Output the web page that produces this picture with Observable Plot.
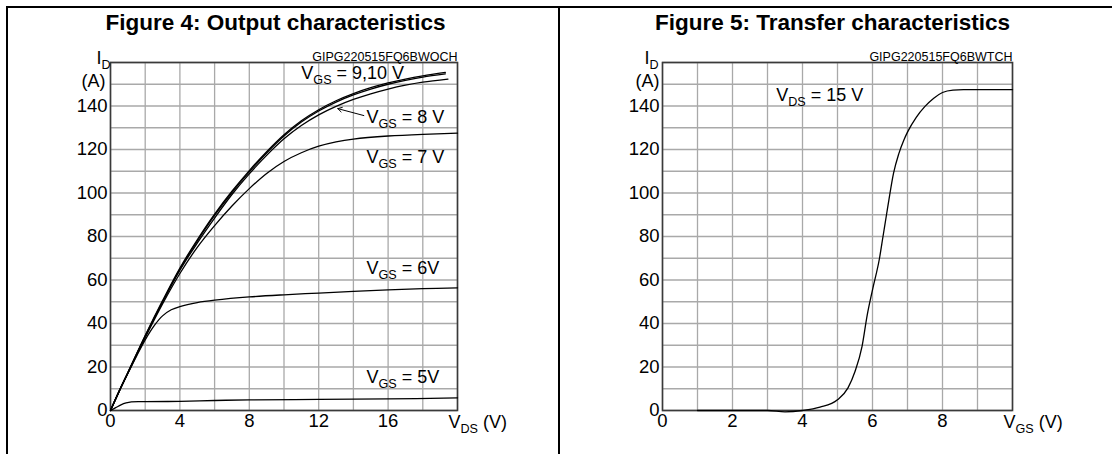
<!DOCTYPE html>
<html>
<head>
<meta charset="utf-8">
<script src="https://cdn.jsdelivr.net/npm/d3@7"></script>
<script src="https://cdn.jsdelivr.net/npm/@observablehq/plot@0.6"></script>
<style>
  html, body { margin: 0; padding: 0; background: #fff; }
  #wrap { position: relative; width: 1112px; height: 454px; overflow: hidden; background: #fff;
          font-family: Arial, "Liberation Sans", Helvetica, sans-serif; }
  .pane { position: absolute; top: 0; }
  #overlay { position: absolute; left: 0; top: 0; pointer-events: none; }
</style>
</head>
<body>
<div id="wrap">
  <div id="leftPane" class="pane" style="left:0"></div>
  <div id="rightPane" class="pane" style="left:556px"></div>
  <svg id="overlay" width="1112" height="454"></svg>
</div>
<script>
// ---------- Figure 4: Output characteristics (ID vs VDS) ----------
const x10V  = [0, 0.5, 1, 2, 3, 4, 5, 6, 7, 8, 9, 10, 11, 12, 13, 14, 15, 16, 17, 18, 19.3];
const id10V = [0, 9, 17.5, 34.5, 50.5, 65.5, 78.5, 90.3, 100.8, 110.3, 119, 126.8, 133.2, 138.3, 142.4, 145.7, 148.4, 150.6, 152.4, 153.9, 155.5];
const x9V   = [0, 0.5, 1, 2, 3, 4, 5, 6, 7, 8, 9, 10, 11, 12, 13, 14, 15, 16, 17, 18, 19.3];
const id9V  = [0, 8.9, 17.3, 34.2, 50, 65, 77.9, 89.7, 100.2, 109.7, 118.4, 126.2, 132.6, 137.7, 141.8, 145.1, 147.8, 150, 151.8, 153.3, 154.8];
const x8V   = [0, 0.5, 1, 2, 3, 4, 5, 6, 7, 8, 9, 10, 11, 12, 13, 14, 15, 16, 17, 18, 19.45];
const id8V  = [0, 8.9, 17.2, 34, 49.8, 64.5, 77, 88.5, 99.3, 108.8, 117.3, 124.9, 131, 135.9, 139.8, 143, 145.6, 147.8, 149.6, 151, 152.4];
const x7V   = [0, 0.5, 1, 2, 3, 4, 5, 6, 7, 8, 9, 10, 11, 12, 13, 14, 16, 18, 20];
const id7V  = [0, 8.8, 17.2, 33.5, 49, 63, 75, 85, 94, 102, 109, 114.5, 118.5, 121.5, 123.5, 124.8, 126.2, 127, 127.5];
const x6V   = [0, 0.5, 1, 1.5, 2, 2.5, 3, 3.5, 4, 5, 6, 8, 10, 12, 14, 16, 18, 20];
const id6V  = [0, 8.7, 17, 25, 32.5, 38.8, 43.5, 46.3, 47.8, 49.6, 50.7, 52.2, 53.2, 54, 54.8, 55.5, 56, 56.4];
const x5V   = [0, 0.3, 0.6, 0.9, 1.2, 2, 4, 6, 8, 12, 16, 20];
const id5V  = [0, 1.3, 2.6, 3.5, 4, 4.1, 4.2, 4.6, 4.9, 5.1, 5.3, 5.8];

const outTicksX = [0, 4, 8, 12, 16];
const outGridX  = [0, 2, 4, 6, 8, 10, 12, 14, 16, 18, 20];
const outNoteText = ["V_{GS} = 9,10 V", "V_{GS} = 8 V", "V_{GS} = 7 V", "V_{GS} = 6V", "V_{GS} = 5V"];
const outNoteX    = [11.0, 14.75, 14.75, 14.75, 14.75];
const outNoteY    = [155, 135, 116.5, 65.3, 15.3];
const arrow8From = [14.6, 135.6];
const arrow8To   = [13.1, 138.8];

// ---------- Figure 5: Transfer characteristics (ID vs VGS) ----------
const tfX = [1, 2, 3, 3.5, 4, 4.5, 5, 5.3, 5.5, 5.7, 5.85, 6, 6.2, 6.3, 6.4, 6.47, 6.6, 6.75, 6.9, 7, 7.25, 7.5, 7.75, 8, 8.3, 8.6, 9, 10];
const tfY = [0, 0, 0, -0.6, 0, 1.5, 4.9, 10.4, 17.9, 29.4, 44, 55.5, 70, 80, 90, 97, 109, 118, 124.5, 128, 134.8, 139.8, 143.6, 146.2, 147.3, 147.5, 147.5, 147.5];
const tfTicksX = [0, 2, 4, 6, 8];
const tfGridX  = [0, 1, 2, 3, 4, 5, 6, 7, 8, 9, 10];
const tfNoteText = ["V_{DS} = 15 V"];
const tfNoteX = [3.25];
const tfNoteY = [145];

// shared
const yTicks = [0, 20, 40, 60, 80, 100, 120, 140];
const yGrid  = [0, 10, 20, 30, 40, 50, 60, 70, 80, 90, 100, 110, 120, 130, 140, 150, 160];
const titles = ["Figure 4: Output characteristics", "Figure 5: Transfer characteristics"];
const codes  = ["GIPG220515FQ6BWOCH", "GIPG220515FQ6BWTCH"];
const xLabels = ["V_{DS} (V)", "V_{GS} (V)"];

const FONT = 'Arial, "Liberation Sans", Helvetica, sans-serif';
const gridColor = "#a9a9a9";

function rows(name, xs, ys) { return xs.map((x, i) => ({s: name, x, y: ys[i]})); }
const outRows = [
  ...rows("10", x10V, id10V), ...rows("9", x9V, id9V), ...rows("8", x8V, id8V),
  ...rows("7", x7V, id7V), ...rows("6", x6V, id6V), ...rows("5", x5V, id5V)
];
const tfRows = rows("15", tfX, tfY);
const outNotes = outNoteText.map((t, i) => ({t, x: outNoteX[i], y: outNoteY[i]}));
const tfNotes = tfNoteText.map((t, i) => ({t, x: tfNoteX[i], y: tfNoteY[i]}));

function subscripts(svg) {
  d3.select(svg).selectAll("text").each(function () {
    const t = this.textContent;
    if (!t.includes("_{")) return;
    const sel = d3.select(this);
    sel.selectAll("*").remove();
    sel.text(null);
    const re = /_\{([^}]*)\}/g;
    let last = 0, m, shifted = false;
    while ((m = re.exec(t))) {
      if (m.index > last) sel.append("tspan").attr("dy", shifted ? "-0.28em" : null).text(t.slice(last, m.index)), shifted = false;
      sel.append("tspan").attr("font-size", "0.7em").attr("dy", "0.4em").text(m[1]);
      shifted = true;
      last = re.lastIndex;
    }
    if (last < t.length) sel.append("tspan").attr("dy", shifted ? "-0.28em" : null).text(t.slice(last));
  });
}

function makeChart({xDomain, gridX, ticksX, data, notes, mLeft, mRight, extra, code, xLabel, idDx, aDx, curve}) {
  const svg = Plot.plot({
    width: 556, height: 454,
    marginLeft: mLeft, marginRight: mRight, marginTop: 62, marginBottom: 44,
    x: {domain: xDomain, label: null},
    y: {domain: [0, 160], label: null},
    style: {background: "transparent", fontFamily: FONT, fontSize: "18px", color: "#000", overflow: "visible"},
    marks: [
      Plot.gridX(gridX, {stroke: gridColor, strokeOpacity: 1, strokeWidth: 1.3}),
      Plot.gridY(yGrid, {stroke: gridColor, strokeOpacity: 1, strokeWidth: 1.3}),
      Plot.frame({stroke: "#3a3a3a", strokeWidth: 1.6}),
      Plot.axisX(ticksX, {tickSize: 0, tickPadding: 3, fontSize: 18.5, label: null}),
      Plot.axisY(yTicks, {tickSize: 0, tickPadding: 3, fontSize: 18.5, label: null}),
      Plot.line(data, {x: "x", y: "y", z: "s", curve, stroke: "#000", strokeWidth: 1.3}),
      ...extra,
      Plot.text(notes, {x: "x", y: "y", text: "t", textAnchor: "start", lineAnchor: "middle", fontSize: 18, fill: "#000"}),
      Plot.text(["I_{D}"], {frameAnchor: "top-left", dx: idDx, dy: -4.5, textAnchor: "end", lineAnchor: "middle", fontSize: 18}),
      Plot.text(["(A)"], {frameAnchor: "top-left", dx: aDx, dy: 19, textAnchor: "end", lineAnchor: "middle", fontSize: 18}),
      Plot.text([code], {frameAnchor: "top-right", dx: 0, dy: -6, textAnchor: "end", lineAnchor: "middle", fontSize: 12.5}),
      Plot.text([xLabel], {frameAnchor: "bottom-right", dx: -9, dy: 12, textAnchor: "start", lineAnchor: "middle", fontSize: 18})
    ]
  });
  d3.select(svg).selectAll('g[aria-label*="tick label"]').attr("font-size", 18.5);
  subscripts(svg);
  return svg;
}

const leftSvg = makeChart({
  xDomain: [0, 20], gridX: outGridX, ticksX: outTicksX, data: outRows, notes: outNotes,
  mLeft: 110, mRight: 99, code: codes[0], xLabel: xLabels[0], idDx: 0, aDx: -5, curve: "catmull-rom",
  extra: [Plot.arrow([{x1: arrow8From[0], y1: arrow8From[1], x2: arrow8To[0], y2: arrow8To[1]}],
    {x1: "x1", y1: "y1", x2: "x2", y2: "y2", stroke: "#000", strokeWidth: 1, headLength: 7})]
});
const rightSvg = makeChart({
  xDomain: [0, 10], gridX: tfGridX, ticksX: tfTicksX, data: tfRows, notes: tfNotes,
  mLeft: 106, mRight: 100, code: codes[1], xLabel: xLabels[1], idDx: -4, aDx: -3, curve: "monotone-x",
  extra: []
});
document.getElementById("leftPane").appendChild(leftSvg);
document.getElementById("rightPane").appendChild(rightSvg);

// outer frame and panel titles
const ov = d3.select("#overlay");
ov.append("line").attr("x1", 6).attr("x2", 1112).attr("y1", 7).attr("y2", 7).attr("stroke", "#000").attr("stroke-width", 2);
ov.append("line").attr("x1", 7).attr("x2", 7).attr("y1", 6).attr("y2", 454).attr("stroke", "#000").attr("stroke-width", 2);
ov.append("line").attr("x1", 559).attr("x2", 559).attr("y1", 6).attr("y2", 454).attr("stroke", "#000").attr("stroke-width", 2);
const titleX = [275.5, 832.5];
titles.forEach((t, i) => {
  ov.append("text").attr("x", titleX[i]).attr("y", 30).attr("text-anchor", "middle")
    .attr("font-family", FONT).attr("font-weight", "bold").attr("font-size", 22.5).text(t);
});
</script>
</body>
</html>
